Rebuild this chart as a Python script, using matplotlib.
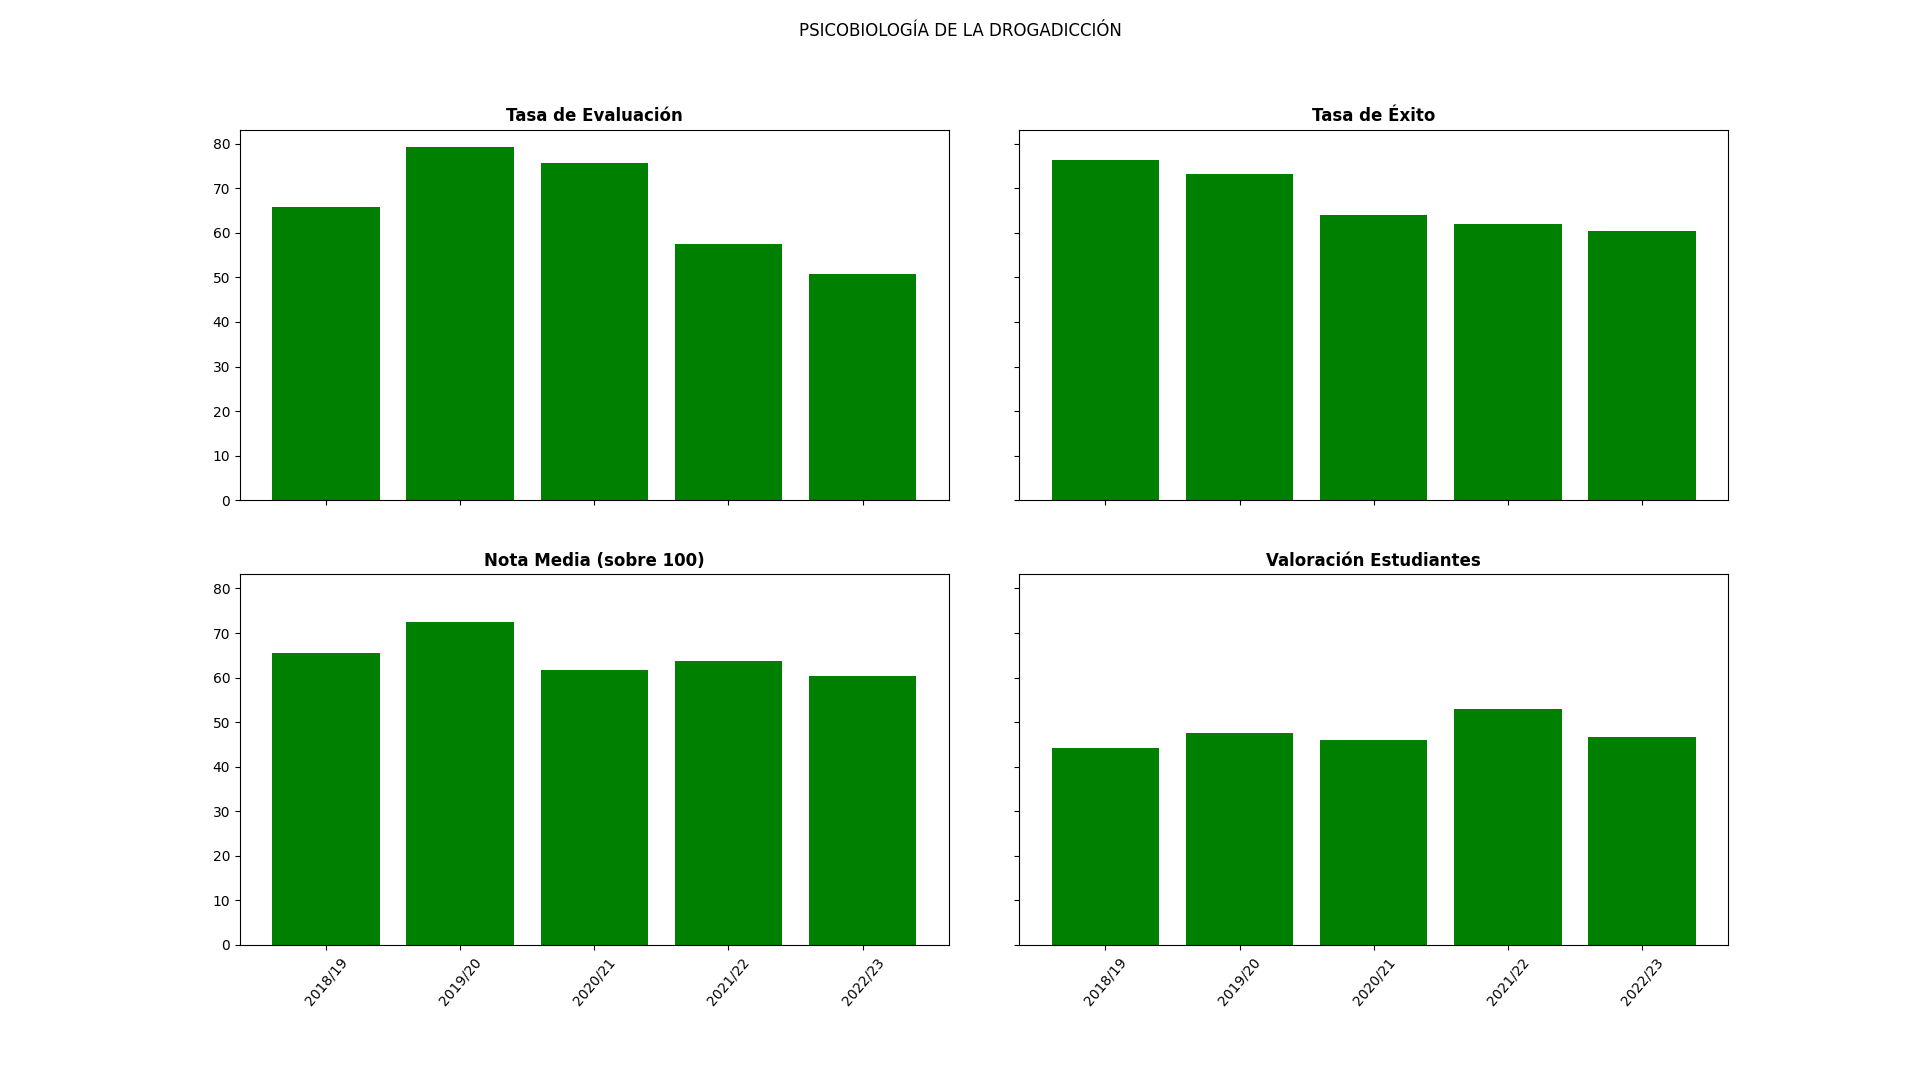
import matplotlib
matplotlib.use("Agg")
import matplotlib.pyplot as plt

# cursos academicos
cursos = ['2018/19', '2019/20', '2020/21', '2021/22', '2022/23']

# valores
tasa_evaluacion = [65.9, 79.2, 75.6, 57.6, 50.7]
tasa_exito = [76.3, 73.1, 64.1, 61.9, 60.3]
nota_media = [65.5, 72.4, 61.7, 63.7, 60.3]
valoracion = [44.2, 47.6, 46.0, 52.9, 46.7]

titulos = ['Tasa de Evaluación', 'Tasa de Éxito',
           'Nota Media (sobre 100)', 'Valoración Estudiantes']
series = [tasa_evaluacion, tasa_exito, nota_media, valoracion]

fig, axes = plt.subplots(2, 2, figsize=(19.2, 10.8), dpi=100, sharex=True, sharey=True)
fig.subplots_adjust(left=0.125, right=0.9, top=0.88, bottom=0.125, wspace=0.1, hspace=0.2)
fig.suptitle('PSICOBIOLOGÍA DE LA DROGADICCIÓN')

for ax, titulo, valores in zip(axes.flat, titulos, series):
    ax.bar(cursos, valores, color='green')
    ax.set_title(titulo, fontweight='bold')

for ax in axes[1]:
    ax.tick_params(axis='x', rotation=50)

fig.savefig('out.png')
